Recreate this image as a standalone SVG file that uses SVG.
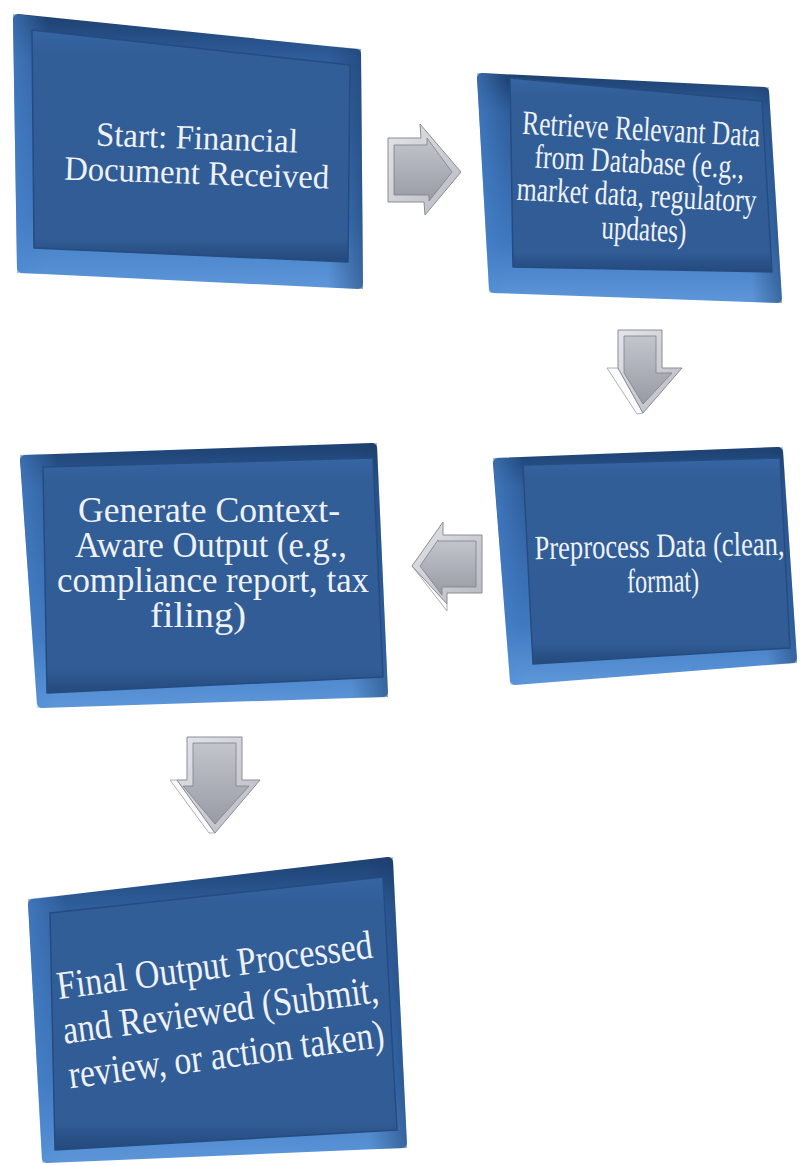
<svg xmlns="http://www.w3.org/2000/svg" width="800" height="1165" viewBox="0 0 800 1165">
<defs>
  <linearGradient id="bevel" x1="0" y1="0" x2="0" y2="1">
    <stop offset="0" stop-color="#1f4374"/>
    <stop offset="0.15" stop-color="#2f5e9c"/>
    <stop offset="0.75" stop-color="#3f78bf"/>
    <stop offset="1" stop-color="#5b95d8"/>
  </linearGradient>
  <linearGradient id="bevelSide" x1="0" y1="0" x2="1" y2="0">
    <stop offset="0" stop-color="#4a86cf" stop-opacity="0.6"/>
    <stop offset="0.1" stop-color="#4a86cf" stop-opacity="0"/>
    <stop offset="0.9" stop-color="#1a3a66" stop-opacity="0"/>
    <stop offset="1" stop-color="#1a3a66" stop-opacity="0.5"/>
  </linearGradient>
  <linearGradient id="face" x1="0" y1="0" x2="0" y2="1">
    <stop offset="0" stop-color="#3565a3"/>
    <stop offset="0.1" stop-color="#325e97"/>
    <stop offset="0.9" stop-color="#315c95"/>
    <stop offset="1" stop-color="#24497c"/>
  </linearGradient>
  <linearGradient id="arrowOuter" x1="0" y1="0" x2="1" y2="1">
    <stop offset="0" stop-color="#e4e5ea"/>
    <stop offset="1" stop-color="#b7b9c1"/>
  </linearGradient>
  <linearGradient id="arrowFace" x1="0" y1="0" x2="0" y2="1">
    <stop offset="0" stop-color="#c3c5cc"/>
    <stop offset="1" stop-color="#989ba5"/>
  </linearGradient>
</defs>
<style>
  .bev { fill: url(#bevel); stroke: url(#bevel); stroke-width: 10; stroke-linejoin: round; }
  .side { fill: url(#bevelSide); }
  .face { fill: url(#face); stroke: #254c80; stroke-width: 1.5; stroke-linejoin: round; }
  .t { font-family: "Liberation Serif", "Times New Roman", serif; fill: #eef2f8; text-anchor: middle; }
  .ao { fill: url(#arrowOuter); stroke: #8a8d95; stroke-width: 1; stroke-linejoin: round; }
  .hl { fill: #fbfbfd; stroke: #9a9ca4; stroke-width: 0.8; stroke-linejoin: round; }
  .af { fill: url(#arrowFace); stroke: #7d8089; stroke-width: 0.8; stroke-linejoin: round; }
</style>
<rect width="800" height="1165" fill="#ffffff"/>

<g id="node-start">
  <polygon class="bev" points="18,19 356,54 358,284 22,268"/>
  <polygon class="side" points="13,14 361,49 363,289 17,273"/>
  <polygon class="face" points="32,30 350,65 348,262 34,248"/>
  <g transform="rotate(2 196 167)">
    <text class="t" font-size="34" x="196" y="149" textLength="202" lengthAdjust="spacingAndGlyphs">Start: Financial</text>
    <text class="t" font-size="34" x="197" y="184" textLength="265" lengthAdjust="spacingAndGlyphs">Document Received</text>
  </g>
</g>

<g id="node-retrieve">
  <polygon class="bev" points="482,78 764,92 777,298 494,288"/>
  <polygon class="side" points="477,73 769,87 782,303 489,293"/>
  <polygon class="face" points="510,78 762,101 772,272 513,267"/>
  <g transform="rotate(3 638 190)">
    <text class="t" font-size="34" x="638" y="140" textLength="238" lengthAdjust="spacingAndGlyphs">Retrieve Relevant Data</text>
    <text class="t" font-size="34" x="638" y="173" textLength="210" lengthAdjust="spacingAndGlyphs">from Database (e.g.,</text>
    <text class="t" font-size="34" x="637" y="206" textLength="240" lengthAdjust="spacingAndGlyphs">market data, regulatory</text>
    <text class="t" font-size="34" x="646" y="240" textLength="85" lengthAdjust="spacingAndGlyphs">updates)</text>
  </g>
</g>

<g id="node-preprocess">
  <polygon class="bev" points="498,463 778,452 792,658 515,680"/>
  <polygon class="side" points="493,458 783,447 797,663 510,685"/>
  <polygon class="face" points="523,465 780,458 790,648 533,664"/>
  <g transform="rotate(-1 660 575)">
    <text class="t" font-size="34" x="660" y="557" textLength="250" lengthAdjust="spacingAndGlyphs">Preprocess Data (clean,</text>
    <text class="t" font-size="34" x="663" y="592" textLength="72" lengthAdjust="spacingAndGlyphs">format)</text>
  </g>
</g>

<g id="node-generate">
  <polygon class="bev" points="25,460 372,448 383,692 42,703"/>
  <polygon class="side" points="20,455 377,443 388,697 37,708"/>
  <polygon class="face" points="43,467 373,458 383,677 47,693"/>
  <text class="t" font-size="35" x="209" y="522" textLength="262" lengthAdjust="spacingAndGlyphs">Generate Context-</text>
  <text class="t" font-size="35" x="211" y="557" textLength="272" lengthAdjust="spacingAndGlyphs">Aware Output (e.g.,</text>
  <text class="t" font-size="35" x="213" y="592" textLength="312" lengthAdjust="spacingAndGlyphs">compliance report, tax</text>
  <text class="t" font-size="35" x="198" y="627" textLength="96" lengthAdjust="spacingAndGlyphs">filing)</text>
</g>

<g id="node-final">
  <polygon class="bev" points="33,904 388,862 402,1143 47,1158"/>
  <polygon class="side" points="28,899 393,857 407,1148 42,1163"/>
  <polygon class="face" points="50,913 383,877 397,1130 55,1150"/>
  <g transform="rotate(-7.5 222 1022)">
    <text class="t" font-size="40" x="222" y="978" textLength="318" lengthAdjust="spacingAndGlyphs">Final Output Processed</text>
    <text class="t" font-size="40" x="222" y="1023" textLength="318" lengthAdjust="spacingAndGlyphs">and Reviewed (Submit,</text>
    <text class="t" font-size="40" x="222" y="1068" textLength="318" lengthAdjust="spacingAndGlyphs">review, or action taken)</text>
  </g>
</g>

<g id="connectors">
  <g id="arrow-1">
    <polygon class="ao" points="388,138 421,138 420,124 461,172 425,215 424,202 388,202"/>
    <polygon class="af" points="394,145 427,145 427,138 452,172 429,201 429,195 394,195"/>
  </g>
  <g id="arrow-2">
    <polygon class="hl" points="607,368 618,368 643,413 637,414"/>
    <polygon class="ao" points="618,330 662,330 662,368 682,368 643,413 618,368"/>
    <polygon class="af" points="624,336 656,336 656,373 672,373 643,404 624,373"/>
  </g>
  <g id="arrow-3">
    <polygon class="hl" points="412,566 418,566 447,604 447,611"/>
    <polygon class="ao" points="482,535 482,593 447,593 447,604 412,566 443,522 443,535"/>
    <polygon class="af" points="476,541 476,587 442,587 442,595 420,566 438,540 438,541"/>
  </g>
  <g id="arrow-4">
    <polygon class="hl" points="170,780 177,780 215,833 209,833"/>
    <polygon class="ao" points="187,737 242,737 242,780 260,780 215,833 177,780 187,780"/>
    <polygon class="af" points="193,743 236,743 236,786 249,786 215,824 183,786 193,786"/>
  </g>
</g>
</svg>
